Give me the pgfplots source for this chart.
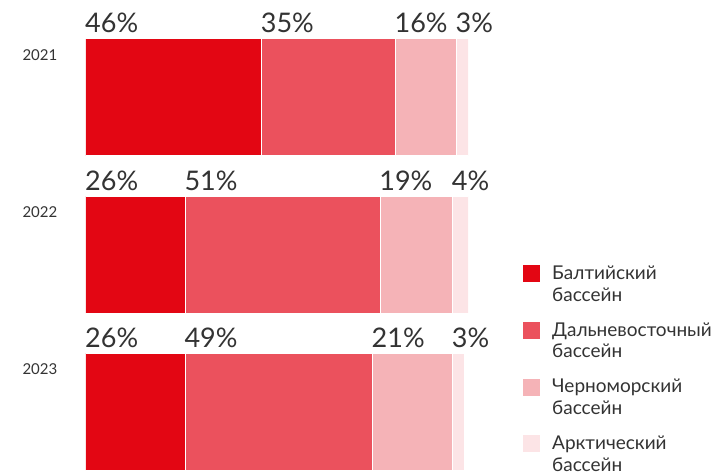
\documentclass[border=0pt]{standalone}
\usepackage{fontspec}
\setmainfont{Lato}
\usepackage{pgfplots}
\pgfplotsset{compat=1.18}
\definecolor{baltic}{HTML}{E30613}
\definecolor{fareast}{HTML}{EB515D}
\definecolor{blacksea}{HTML}{F5B3B7}
\definecolor{arctic}{HTML}{FCE4E6}
\definecolor{textgray}{HTML}{333333}
\pgfplotsset{
  sq/.style={legend image code/.code={\fill[##1,draw=none] (0pt,2pt) rectangle (17pt,19pt);}},
  frame/.style={at={(86pt,0pt)}, anchor=south west, scale only axis,
    width=382pt, height=473pt, xmin=0, xmax=100,
    ymin=-0.62, ymax=2.39, y dir=reverse},
}
\begin{document}
\begin{tikzpicture}
\path[use as bounding box] (0,0) rectangle (713pt,473pt);
\begin{axis}[
  frame,
  xbar stacked, bar width=117pt,
  axis line style={draw=none}, tick style={draw=none},
  xtick=\empty, ytick={0,1,2}, yticklabels={2021,2022,2023},
  yticklabel style={font=\fontsize{15}{18}\selectfont, text=textgray,
    anchor=west, xshift=-67pt, yshift=42.5pt},
  legend style={at={(axis description cs:1.144,0.442)}, anchor=north west,
    draw=none, fill=none, inner sep=0pt, row sep=16pt,
    font=\fontsize{19}{21.5}\selectfont, text=textgray, cells={align=left},
    /tikz/every odd column/.append style={column sep=10pt}},
  legend cell align=left,
]
\addplot[fill=baltic, draw=white, line width=1pt, sq] coordinates {(46,0) (26,1) (26,2)};
\addplot[fill=fareast, draw=white, line width=1pt, sq] coordinates {(35,0) (51,1) (49,2)};
\addplot[fill=blacksea, draw=white, line width=1pt, sq] coordinates {(16,0) (19,1) (21,2)};
\addplot[fill=arctic, draw=white, line width=1pt, sq] coordinates {(3,0) (4,1) (3,2)};
\legend{Балтийский\\бассейн, Дальневосточный\\бассейн, Черноморский\\бассейн, Арктический\\бассейн}
\end{axis}
\begin{axis}[frame, hide axis]
\addplot[only marks, mark=none, nodes near coords, point meta=explicit symbolic,
  every node near coord/.append style={anchor=base west, inner sep=0pt,
    xshift=-1pt, yshift=64.5pt, font=\fontsize{27}{30}\selectfont, text=textgray}]
  coordinates {
  (0,0)[46\%] (46,0)[35\%] (81,0)[16\%] (97,0)[3\%]
  (0,1)[26\%] (26,1)[51\%] (77,1)[19\%] (96,1)[4\%]
  (0,2)[26\%] (26,2)[49\%] (75,2)[21\%] (96,2)[3\%]
  };
\end{axis}
\end{tikzpicture}
\end{document}
